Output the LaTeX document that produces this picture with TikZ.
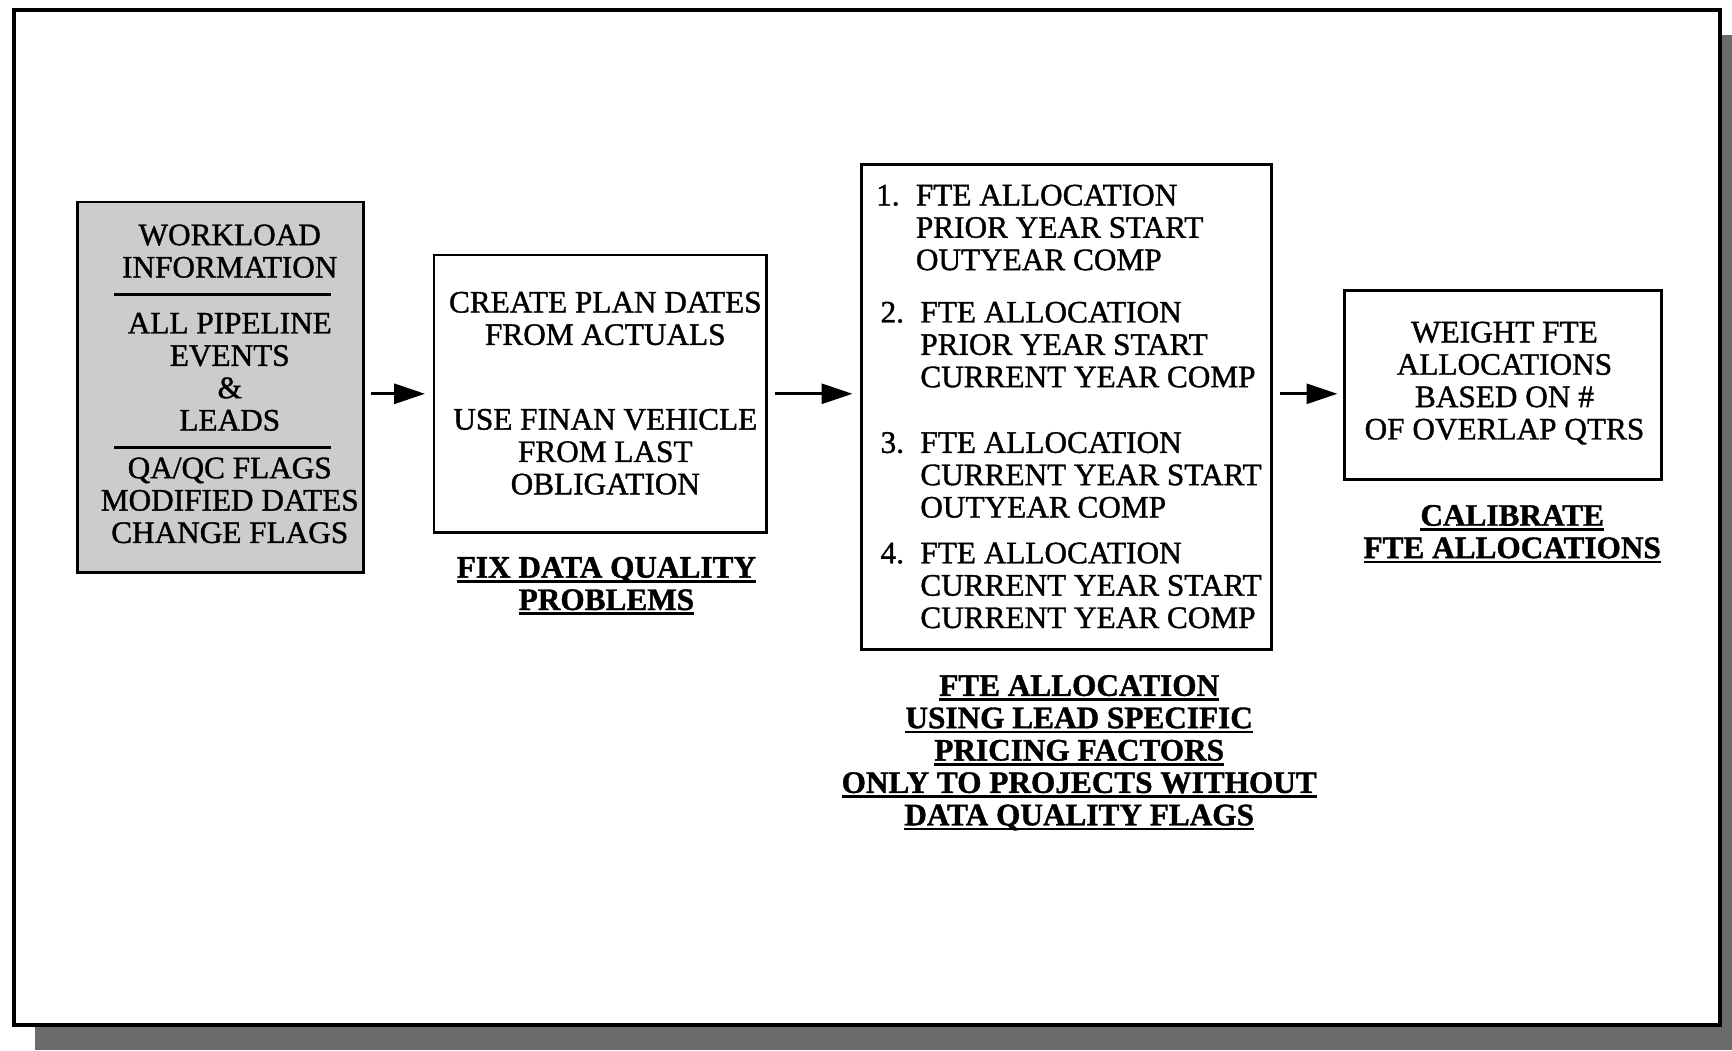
\documentclass[tikz,border=0pt]{standalone}
\usepackage{fontspec}
\setmainfont{Liberation Serif}[FakeBold=1.2]
\usetikzlibrary{arrows.meta}

% underline drawn as a thick rule under one line of text
\newsavebox{\ulwbox}
\newcommand\ulw[1]{\sbox{\ulwbox}{#1}\rlap{\rule[-4.6pt]{\wd\ulwbox}{2.4pt}}\usebox{\ulwbox}}

\tikzset{
  txt/.style={font=\fontsize{28.3}{29.3}\selectfont, inner sep=0pt, anchor=north, align=center},
  ttl/.style={txt, font=\fontsize{28.3}{29.3}\selectfont\bfseries},
  item/.style={txt, anchor=north west, align=left},
  stepbox/.style={draw, line width=2.4pt, inner sep=0pt},
  flow/.style={line width=3pt, -{Triangle[length=28pt,width=18pt]}},
  divider/.style={line width=2.6pt},
}

\begin{document}
\begin{tikzpicture}[x=1pt, y=-1pt]
\useasboundingbox (0,0) rectangle (1568,951);

% page frame with drop shadow
\fill[black!58] (32,32) rectangle (1568,951);
\draw[line width=3.6pt, fill=white] (13,9) rectangle (1557,928);

% boxes
\node[stepbox, fill=black!20, minimum width=259pt, minimum height=335pt] (wl) at (199.5,350.5) {};
\node[stepbox, minimum width=301pt, minimum height=251pt] (fix) at (543.5,356.5) {};
\node[stepbox, minimum width=371pt, minimum height=439pt] (alloc) at (965.5,368.5) {};
\node[stepbox, minimum width=287pt, minimum height=171pt] (calib) at (1360.5,348.5) {};

% workload information
\node[txt] (wl1) at (208,203) {WORKLOAD\\INFORMATION};
\draw[divider] (103,267) -- (300,267);
\node[txt] (wl2) at (208,283) {ALL PIPELINE\\EVENTS\\\&\\LEADS};
\draw[divider] (103,405) -- (300,405);
\node[txt] (wl3) at (208,414) {QA/QC FLAGS\\MODIFIED DATES\\CHANGE FLAGS};

% fix data quality problems
\node[txt] (fix1) at (548,264) {CREATE PLAN DATES\\FROM ACTUALS};
\node[txt] (fix2) at (548,370) {USE FINAN VEHICLE\\FROM LAST\\OBLIGATION};
\node[ttl] (fixt) at (549,504) {\ulw{FIX DATA QUALITY}\\\ulw{PROBLEMS}};

% FTE allocation steps
\node[item] (a1) at (793,167) {\makebox[36pt][l]{1.}FTE ALLOCATION\\\hspace*{36pt}PRIOR YEAR START\\\hspace*{36pt}OUTYEAR COMP};
\node[item] (a2) at (797,273) {\makebox[36pt][l]{2.}FTE ALLOCATION\\\hspace*{36pt}PRIOR YEAR START\\\hspace*{36pt}CURRENT YEAR COMP};
\node[item] (a3) at (797,391) {\makebox[36pt][l]{3.}FTE ALLOCATION\\\hspace*{36pt}CURRENT YEAR START\\\hspace*{36pt}OUTYEAR COMP};
\node[item] (a4) at (797,491) {\makebox[36pt][l]{4.}FTE ALLOCATION\\\hspace*{36pt}CURRENT YEAR START\\\hspace*{36pt}CURRENT YEAR COMP};
\node[ttl] (allt) at (977,611) {\ulw{FTE ALLOCATION}\\\ulw{USING LEAD SPECIFIC}\\\ulw{PRICING FACTORS}\\\ulw{ONLY TO PROJECTS WITHOUT}\\\ulw{DATA QUALITY FLAGS}};

% calibrate
\node[txt] (cal1) at (1362,291) {WEIGHT FTE\\ALLOCATIONS\\BASED ON \#\\OF OVERLAP QTRS};
\node[ttl] (calt) at (1369,457) {\ulw{CALIBRATE}\\\ulw{FTE ALLOCATIONS}};

% flow arrows
\draw[flow, shorten <=6pt, shorten >=7pt] (wl.east |- fix.west) -- (fix.west);
\draw[flow, shorten <=6pt, shorten >=7pt] (fix.east) -- (fix.east -| alloc.west);
\draw[flow, shorten <=7pt, shorten >=5pt] (alloc.east |- fix.east) -- (calib.west |- fix.east);
\end{tikzpicture}
\end{document}
